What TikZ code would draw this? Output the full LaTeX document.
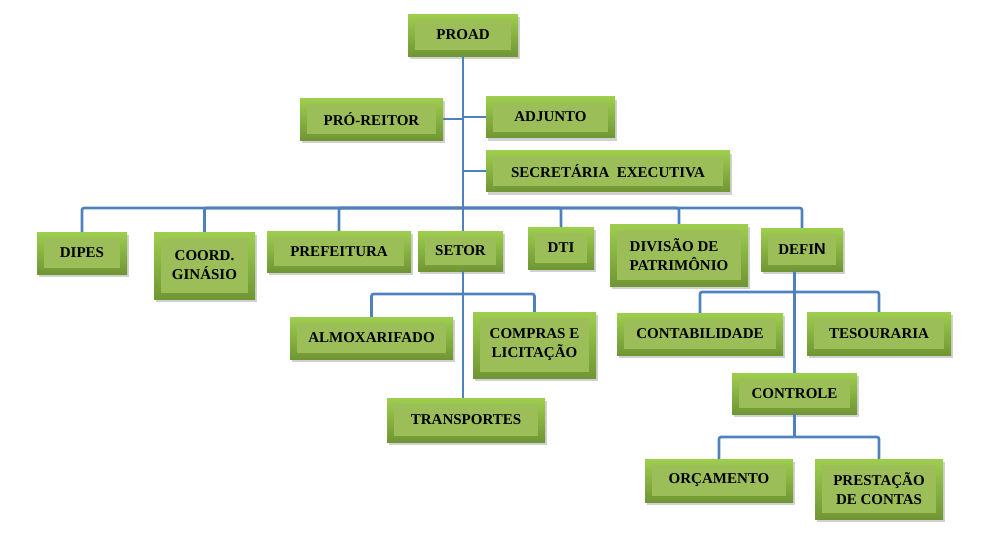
\documentclass[tikz,border=0pt]{standalone}
\usepackage{fontspec}
\setmainfont{Liberation Serif}
\newfontfamily\sansN{Liberation Sans}
\usetikzlibrary{shadows}
\definecolor{boxtop}{RGB}{158,206,78}
\definecolor{boxbot}{RGB}{112,150,52}
\definecolor{boxin}{RGB}{156,190,88}
\definecolor{linkc}{RGB}{79,129,189}
\tikzset{
  box/.style={rectangle, top color=boxtop, bottom color=boxbot, draw=none,
    font=\fontsize{15}{19}\selectfont\bfseries, align=center, inner sep=0pt,
    drop shadow={shadow xshift=2pt, shadow yshift=-3pt, opacity=0.3, fill=black!60},
    path picture={\fill[boxin] ([shift={(7pt,-6pt)}]path picture bounding box.north west)
      rectangle ([shift={(-7pt,6pt)}]path picture bounding box.south east);}},
  link/.style={draw=linkc, line width=2.6pt, rounded corners=2pt}
}
\begin{document}
\begin{tikzpicture}[x=1pt,y=-1pt]
\useasboundingbox (0,0) rectangle (995,546);
% level 0 and staff
\node[box, minimum width=110, minimum height=42] (proad) at (463,35) {PROAD};
\node[box, minimum width=143, minimum height=42] (proreitor) at (371.5,119) {PRÓ-REITOR};
\node[box, minimum width=129, minimum height=41] (adjunto) at (550.5,117) {ADJUNTO};
\node[box, minimum width=244, minimum height=41] (secret) at (608,171) {SECRETÁRIA\ \ EXECUTIVA};
% level 1
\node[box, minimum width=90, minimum height=42] (dipes) at (82,253) {DIPES};
\node[box, minimum width=101, minimum height=67] (coord) at (204.5,265.5) {COORD.\\GINÁSIO};
\node[box, minimum width=144, minimum height=41] (pref) at (339,251.5) {PREFEITURA};
\node[box, minimum width=85, minimum height=40] (setor) at (460.5,251) {SETOR};
\node[box, minimum width=66, minimum height=42] (dti) at (561,248) {DTI};
\node[box, minimum width=138, minimum height=62, align=left] (div) at (679,255) {DIVISÃO DE\\PATRIMÔNIO};
\node[box, minimum width=82, minimum height=43] (defin) at (802,249.5) {DEFI{\sansN\fontsize{16}{19}\selectfont N}};
% setor children
\node[box, minimum width=163, minimum height=42] (almox) at (371.5,338) {ALMOXARIFADO};
\node[box, minimum width=123, minimum height=66] (compras) at (534.5,345) {COMPRAS E\\LICITAÇÃO};
\node[box, minimum width=158, minimum height=44] (transp) at (466,420) {TRANSPORTES};
% defin children
\node[box, minimum width=166, minimum height=42] (contab) at (700,334) {CONTABILIDADE};
\node[box, minimum width=144, minimum height=43] (tesour) at (879,333.5) {TESOURARIA};
\node[box, minimum width=125, minimum height=41] (controle) at (794.5,393.5) {CONTROLE};
\node[box, minimum width=148, minimum height=43] (orcam) at (719,480.5) {ORÇAMENTO};
\node[box, minimum width=128, minimum height=60] (prest) at (879,489) {PRESTAÇÃO\\DE CONTAS};
% bus coordinates
\coordinate (bus) at (463,208);
\coordinate (sbus) at (463,294);
\coordinate (dbus) at (794.5,292);
\coordinate (cbus) at (794.5,437);
% connectors
\path[link] (proad.south) -- (proad.south |- setor.north);
\path[link] (proreitor.east) -- (proreitor.east -| proad.south);
\path[link] (adjunto.west) -- (adjunto.west -| proad.south);
\path[link] (secret.west) -- (secret.west -| proad.south);
\path[link] (bus) -| (dipes.north);
\path[link] (bus) -| (coord.north);
\path[link] (bus) -| (pref.north);
\path[link] (bus) -| (dti.north);
\path[link] (bus) -| (div.north);
\path[link] (bus) -| (defin.north);
\path[link] (setor.south -| proad.south) -- (proad.south |- transp.north);
\path[link] (sbus) -| (almox.north);
\path[link] (sbus) -| (compras.north);
\path[link] (defin.south -| controle.north) -- (controle.north);
\path[link] (dbus) -| (contab.north);
\path[link] (dbus) -| (tesour.north);
\path[link] (controle.south) -- (cbus);
\path[link] (cbus) -| (orcam.north);
\path[link] (cbus) -| (prest.north);
\end{tikzpicture}
\end{document}
